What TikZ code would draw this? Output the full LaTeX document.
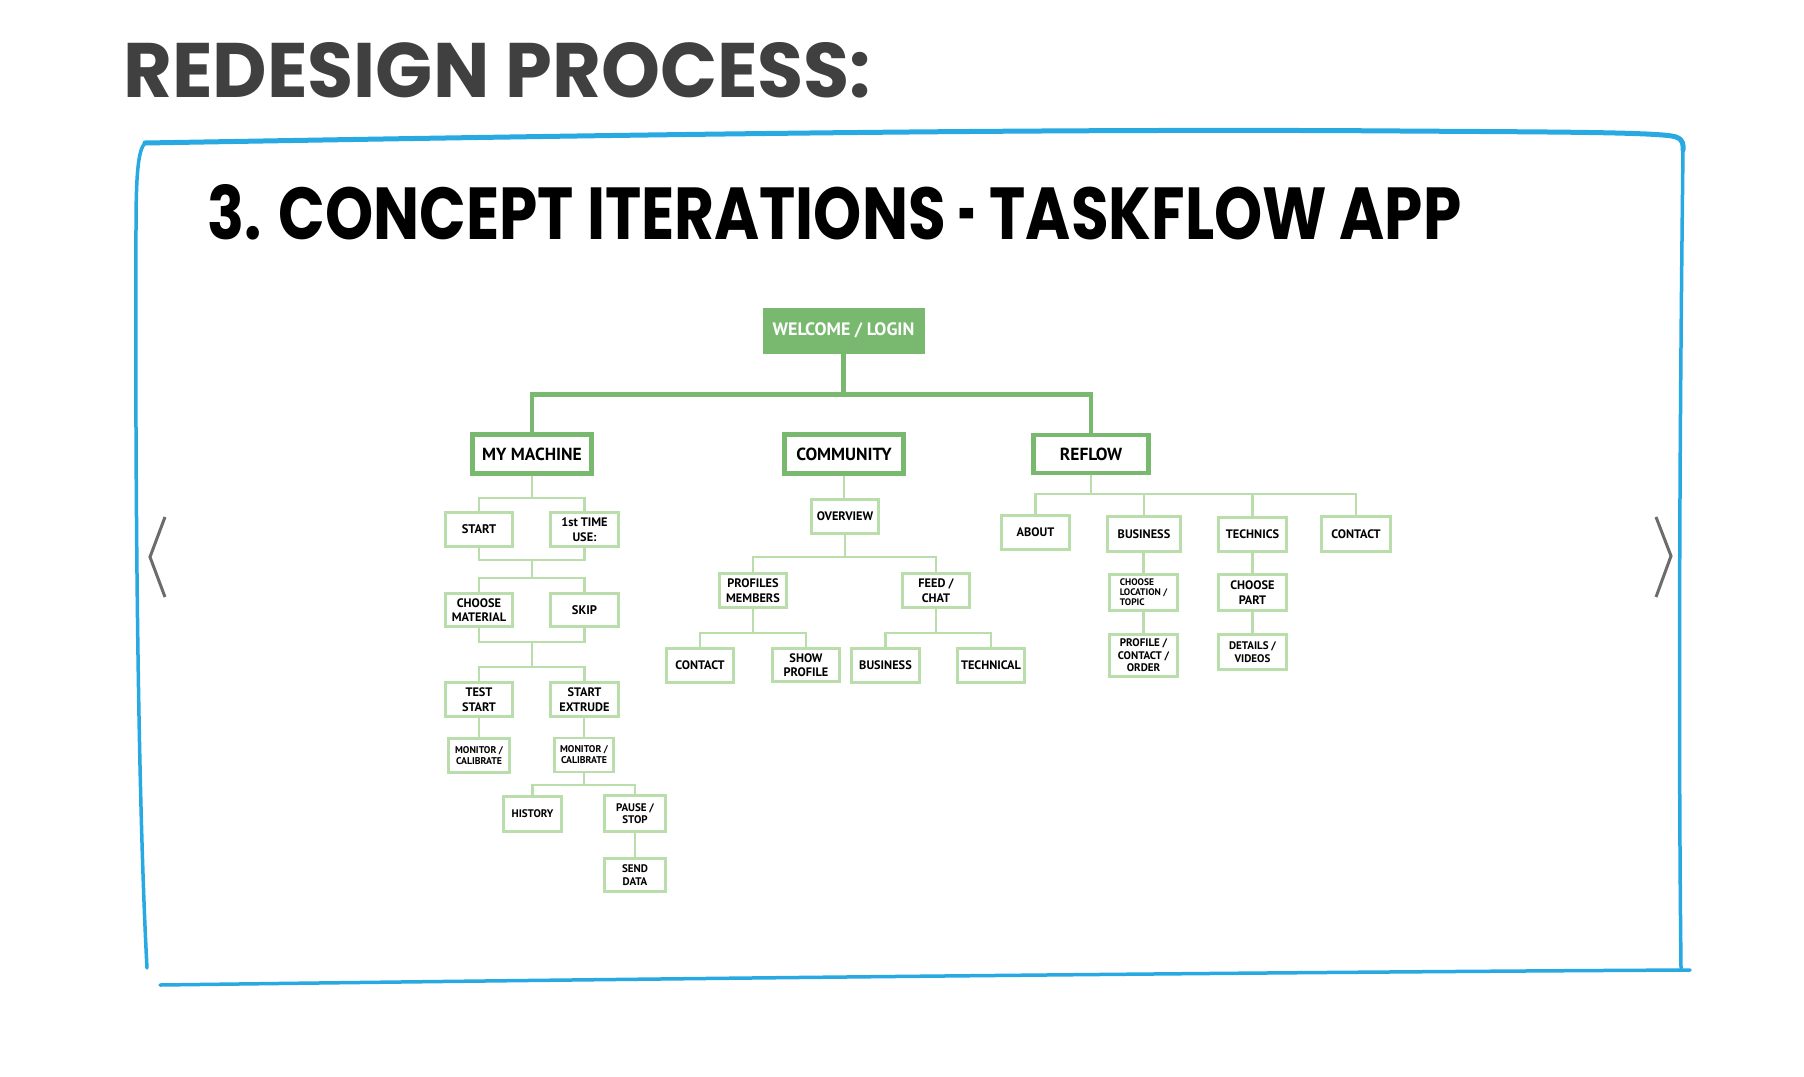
\documentclass[tikz,border=0pt]{standalone}
\usepackage{fontspec}
\setmainfont{Poppins}
\newfontfamily\lab{PT Sans}
\definecolor{dgreen}{RGB}{120,184,111}
\definecolor{lgreen}{RGB}{186,221,172}
\definecolor{frameblue}{RGB}{41,169,225}
\definecolor{titlegray}{RGB}{64,64,64}
\definecolor{chevgray}{RGB}{108,108,108}
\tikzset{
  lbox/.style={draw=lgreen, line width=2.8pt, fill=white, inner sep=1pt, align=center, text=black},
  topbox/.style={draw=dgreen, line width=4.5pt, fill=white, inner sep=1pt, align=center, text=black,
     font=\lab\bfseries\fontsize{17.5}{19}\selectfont},
  thickc/.style={draw=dgreen, line width=4.5pt},
  thinc/.style={draw=lgreen, line width=2.8pt},
  fA/.style={font=\lab\bfseries\fontsize{12.5}{14}\selectfont},
  fB/.style={font=\lab\bfseries\fontsize{12.3}{14.5}\selectfont},
  fC/.style={font=\lab\bfseries\fontsize{9.8}{11}\selectfont},
  fD/.style={font=\lab\bfseries\fontsize{11}{12.5}\selectfont},
  fE/.style={font=\lab\bfseries\fontsize{9.5}{10}\selectfont},
  chev/.style={draw=chevgray, line width=3pt},
}
\begin{document}
\begin{tikzpicture}[x=1pt,y=-1pt]
\useasboundingbox[fill=white] (0,0) rectangle (1804,1076);

% titles
\node[anchor=base west, inner sep=0, text=titlegray] (t1) at (123,97)
  {\resizebox{748pt}{55pt}{\bfseries REDESIGN PROCESS:}};
\node[anchor=base west, inner sep=0, text=black] (t2) at (207,239)
  {\resizebox{1254pt}{55pt}{\bfseries 3. CONCEPT ITERATIONS \scalebox{0.5}[1]{-} TASKFLOW APP}};

% frame
\draw[frameblue, line width=5pt, line cap=round]
  (145,143) .. controls (500,137) and (1000,128) .. (1400,131)
  .. controls (1550,132) and (1662,132) .. (1676,137)
  .. controls (1684,140) and (1683,145) .. (1683,150);
\draw[frameblue, line width=3.5pt, line cap=round]
  (1683,150) .. controls (1680,400) and (1678,700) .. (1681,968);
\draw[frameblue, line width=3.5pt, line cap=round]
  (145,143) .. controls (138,150) and (136,175) .. (136,230)
  .. controls (135,500) and (138,800) .. (147,968);
\draw[frameblue, line width=3.5pt, line cap=round]
  (160,985) .. controls (700,978) and (1300,972) .. (1690,970);

% chevrons
\draw[chev] (165,517) -- (150,557) -- (165,597);
\draw[chev] (1656,517) -- (1671,556) -- (1656,597);

% root
\node[fill=dgreen, draw=dgreen, line width=0pt, minimum width=161pt, minimum height=45pt, inner sep=0,
  text=white, font=\lab\bfseries\fontsize{18}{19}\selectfont] (wel) at (843.5,330.5) {WELCOME / LOGIN};

% level 1
\node[topbox, minimum width=119pt, minimum height=39pt] (mm) at (532,454) {MY MACHINE};
\node[topbox, minimum width=119pt, minimum height=39pt] (com) at (844,454) {COMMUNITY};
\node[topbox, minimum width=115pt, minimum height=38pt] (ref) at (1091,454) {REFLOW};

% my machine
\node[lbox, fA, minimum width=67pt, minimum height=34pt] (start) at (479,529.5) {START};
\node[lbox, fB, minimum width=68pt, minimum height=34pt] (first) at (584.5,529.5) {1st TIME\\USE:};
\node[lbox, fB, minimum width=67pt, minimum height=33pt] (choose) at (479,610) {CHOOSE\\MATERIAL};
\node[lbox, fA, minimum width=68pt, minimum height=33pt] (skip) at (584.5,610) {SKIP};
\node[lbox, fB, minimum width=67pt, minimum height=34pt] (test) at (479,699.5) {TEST\\START};
\node[lbox, fB, minimum width=68pt, minimum height=34pt] (extr) at (584.5,699.5) {START\\EXTRUDE};
\node[lbox, fC, minimum width=61pt, minimum height=34pt] (mon1) at (479,755.5) {MONITOR /\\CALIBRATE};
\node[lbox, fC, minimum width=59pt, minimum height=34pt] (mon2) at (584,755) {MONITOR /\\CALIBRATE};
\node[lbox, fD, minimum width=58pt, minimum height=35pt] (hist) at (532.5,814) {HISTORY};
\node[lbox, fD, minimum width=61pt, minimum height=36pt] (pause) at (635,813.5) {PAUSE /\\STOP};
\node[lbox, fD, minimum width=61pt, minimum height=33pt] (send) at (635,875) {SEND\\DATA};

% community
\node[lbox, fB, minimum width=67pt, minimum height=34pt] (over) at (845,516.5) {OVERVIEW};
\node[lbox, fB, minimum width=67pt, minimum height=34pt] (prof) at (753,590.5) {PROFILES\\MEMBERS};
\node[lbox, fB, minimum width=67pt, minimum height=34pt] (feed) at (936,590.5) {FEED /\\CHAT};
\node[lbox, fB, minimum width=67pt, minimum height=34pt] (contactA) at (700,665.5) {CONTACT};
\node[lbox, fB, minimum width=67pt, minimum height=33pt] (showp) at (806,665) {SHOW\\PROFILE};
\node[lbox, fB, minimum width=68pt, minimum height=34pt] (busA) at (885.5,665.5) {BUSINESS};
\node[lbox, fB, minimum width=67pt, minimum height=34pt] (techA) at (991,665.5) {TECHNICAL};

% reflow
\node[lbox, fB, minimum width=68pt, minimum height=34pt] (about) at (1035.5,532.5) {ABOUT};
\node[lbox, fB, minimum width=73pt, minimum height=35pt] (busB) at (1144,534) {BUSINESS};
\node[lbox, fB, minimum width=68pt, minimum height=34pt] (techs) at (1252.5,534.5) {TECHNICS};
\node[lbox, fB, minimum width=69pt, minimum height=35pt] (contactB) at (1356,534) {CONTACT};
\node[lbox, fE, align=left, minimum width=68pt, minimum height=36pt] (chloc) at (1143.5,592.5) {CHOOSE\\LOCATION /\\TOPIC};
\node[lbox, fD, minimum width=68pt, minimum height=42pt] (pco) at (1143.5,655.5) {PROFILE /\\CONTACT /\\ORDER};
\node[lbox, fB, minimum width=68pt, minimum height=36pt] (chpart) at (1252.5,592.5) {CHOOSE\\PART};
\node[lbox, fD, minimum width=68pt, minimum height=35pt] (det) at (1252.5,652) {DETAILS /\\VIDEOS};

% thick connectors
\coordinate (b0) at (843.5,394.5);
\draw[thickc] (wel.south) -- (b0);
\draw[thickc] (mm.north) |- (ref.north |- b0) -- (ref.north);

% my machine connectors
\coordinate (b1) at (532,498);
\draw[thinc] (mm.south) -- (b1);
\draw[thinc] (start.north) |- (first.north |- b1) -- (first.north);
\coordinate (j1) at (532,560);
\coordinate (j2) at (532,578);
\draw[thinc] (start.south) |- (first.south |- j1) -- (first.south);
\draw[thinc] (j1) -- (j2);
\draw[thinc] (choose.north) |- (skip.north |- j2) -- (skip.north);
\coordinate (j3) at (532,642);
\coordinate (j4) at (532,667);
\draw[thinc] (choose.south) |- (skip.south |- j3) -- (skip.south);
\draw[thinc] (j3) -- (j4);
\draw[thinc] (test.north) |- (extr.north |- j4) -- (extr.north);
\draw[thinc] (test.south) -- (mon1.north);
\draw[thinc] (mon2.north |- extr.south) -- (mon2.north);
\coordinate (b5) at (584,785);
\draw[thinc] (mon2.south) -- (b5);
\draw[thinc] (hist.north) |- (pause.north |- b5) -- (pause.north);
\draw[thinc] (pause.south) -- (send.north);

% community connectors
\draw[thinc] (com.south) -- (com.south |- over.north);
\coordinate (b6) at (845,557);
\draw[thinc] (over.south) -- (b6);
\draw[thinc] (prof.north) |- (feed.north |- b6) -- (feed.north);
\coordinate (b7) at (753,633);
\draw[thinc] (prof.south) -- (b7);
\draw[thinc] (contactA.north) |- (showp.north |- b7) -- (showp.north);
\coordinate (b8) at (936,633);
\draw[thinc] (feed.south) -- (b8);
\draw[thinc] (busA.north) |- (techA.north |- b8) -- (techA.north);

% reflow connectors
\coordinate (b9) at (1091,494);
\draw[thinc] (ref.south) -- (b9);
\draw[thinc] (about.north) |- (contactB.north |- b9) -- (contactB.north);
\draw[thinc] (busB.north) -- (busB.north |- b9);
\draw[thinc] (techs.north) -- (techs.north |- b9);
\draw[thinc] (chloc.north |- busB.south) -- (chloc.north);
\draw[thinc] (chloc.south) -- (pco.north);
\draw[thinc] (techs.south) -- (chpart.north);
\draw[thinc] (chpart.south) -- (det.north);
\end{tikzpicture}
\end{document}
